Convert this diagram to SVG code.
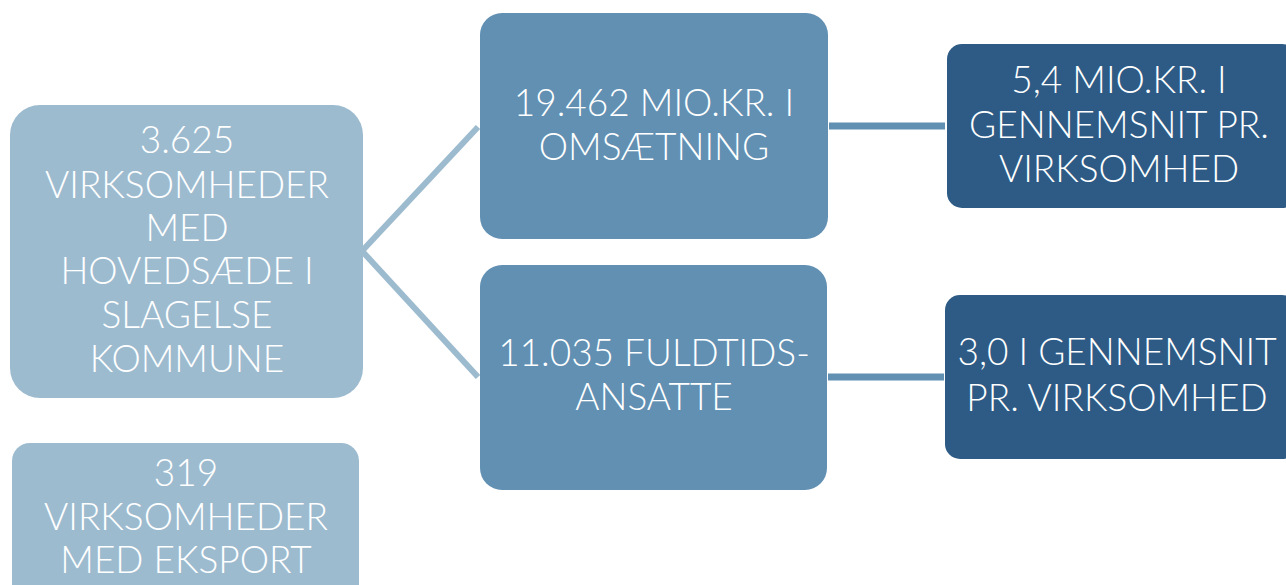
<svg xmlns="http://www.w3.org/2000/svg" width="1286" height="585" viewBox="0 0 1286 585">
<style>
.t{font-family:Lato,"Open Sans","Liberation Sans",sans-serif;font-weight:300;font-size:37px;fill:#ffffff;text-anchor:middle}
.l{fill:#9DBBCF}
.m{fill:#6190B3}
.d{fill:#2D5B85}
.c1{stroke:#9DBBCF;stroke-width:6;fill:none}
.c2{stroke:#6190B3;stroke-width:7;fill:none}
</style>
<rect width="1286" height="585" fill="#ffffff"/>
<g id="connectors">
<line class="c1" x1="362" y1="251" x2="478" y2="127"/>
<line class="c1" x1="362" y1="251" x2="478" y2="377"/>
<line class="c2" x1="829" y1="126" x2="945" y2="126"/>
<line class="c2" x1="828" y1="377" x2="944" y2="377"/>
</g>
<g id="n1">
<rect class="l" x="10" y="105" width="353" height="293" rx="30"/>
<text class="t" x="187" y="153">3.625</text>
<text class="t" x="187" y="198">VIRKSOMHEDER</text>
<text class="t" x="187" y="241">MED</text>
<text class="t" x="187" y="284">HOVEDSÆDE I</text>
<text class="t" x="187" y="328">SLAGELSE</text>
<text class="t" x="187" y="372">KOMMUNE</text>
</g>
<g id="n2">
<rect class="l" x="12" y="443" width="347" height="160" rx="18"/>
<text class="t" x="186" y="486">319</text>
<text class="t" x="186" y="530">VIRKSOMHEDER</text>
<text class="t" x="186" y="573">MED EKSPORT</text>
</g>
<g id="n3">
<rect class="m" x="480" y="13" width="348" height="226" rx="22"/>
<text class="t" x="654" y="116">19.462 MIO.KR. I</text>
<text class="t" x="654" y="160">OMSÆTNING</text>
</g>
<g id="n4">
<rect class="m" x="480" y="265" width="347" height="225" rx="22"/>
<text class="t" x="654" y="366">11.035 FULDTIDS-</text>
<text class="t" x="654" y="410">ANSATTE</text>
</g>
<g id="n5">
<rect class="d" x="947" y="44" width="350" height="164" rx="15"/>
<text class="t" x="1119" y="93">5,4 MIO.KR. I</text>
<text class="t" x="1119" y="138">GENNEMSNIT PR.</text>
<text class="t" x="1119" y="182">VIRKSOMHED</text>
</g>
<g id="n6">
<rect class="d" x="945" y="295" width="352" height="164" rx="15"/>
<text class="t" x="1117" y="365">3,0 I GENNEMSNIT</text>
<text class="t" x="1117" y="411">PR. VIRKSOMHED</text>
</g>
</svg>
